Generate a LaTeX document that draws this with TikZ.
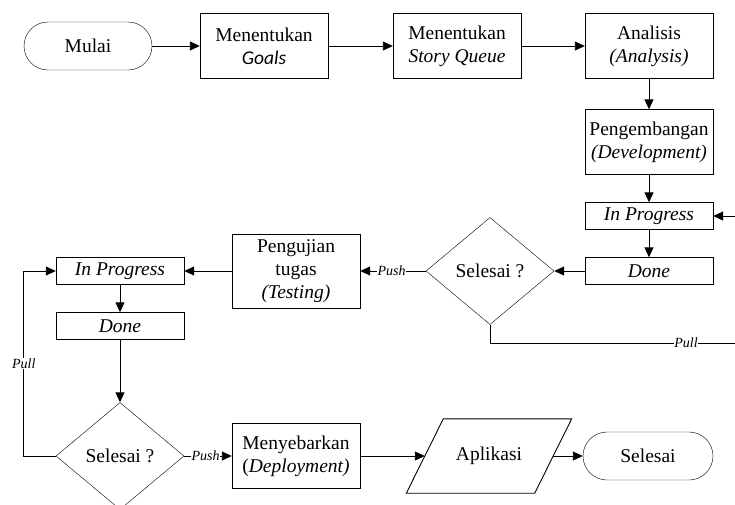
\documentclass[tikz,border=0pt]{standalone}
\usepackage{fontspec}
\setmainfont{Liberation Serif}
\newfontfamily\goalsfont{Carlito}
\usetikzlibrary{arrows.meta,shapes.geometric}
\tikzset{
  every node/.style={font=\fontsize{19.5}{23}\selectfont},
  proses/.style={draw, minimum width=128pt, minimum height=65pt, align=center, inner sep=1pt},
  tahap/.style={draw, minimum width=128pt, minimum height=27pt, inner sep=1pt, font=\fontsize{19.5}{23}\selectfont\itshape},
  terminal/.style={draw, rounded corners=24pt, minimum width=128pt, minimum height=48pt},
  cek/.style={draw, diamond, aspect=1.2, inner sep=0pt, minimum width=128pt, minimum height=107pt},
  dataio/.style={minimum width=128pt, minimum height=74pt, inner sep=0pt},
  ket/.style={fill=white, inner sep=0.5pt, font=\fontsize{14}{16}\selectfont\itshape},
  alur/.style={-{Triangle[length=10pt,width=9pt]}, line width=0.9pt}
}
\begin{document}
\begin{tikzpicture}[x=1pt,y=-1pt]
  \useasboundingbox (0,0) rectangle (735,504);
  % baris atas
  \node[terminal] (mulai) at (88,46) {Mulai};
  \node[proses] (goals) at (264,46) {Menentukan\\{\goalsfont\itshape Goals}};
  \node[proses] (story) at (457,46) {Menentukan\\\textit{Story Queue}};
  \node[proses] (analisis) at (649,46) {Analisis\\\textit{(Analysis)}};
  % kolom kanan
  \node[proses] (dev) at (649,142) {Pengembangan\\\textit{(Development)}};
  \node[tahap] (prog1) at (649,216) {In Progress};
  \node[tahap] (done1) at (649,271) {Done};
  \node[cek] (cek1) at (490,271) {Selesai ?};
  \node[proses, minimum height=74pt] (uji) at (296,271) {Pengujian\\tugas\\\textit{(Testing)}};
  % kolom kiri
  \node[tahap] (prog2) at (120,271) {In Progress};
  \node[tahap] (done2) at (120,326) {Done};
  \node[cek] (cek2) at (120,456) {Selesai ?};
  % baris bawah
  \node[proses] (deploy) at (296,456) {Menyebarkan\\(\textit{Deployment)}};
  \node[dataio] (apl) at (489,456) {Aplikasi};
  \draw[line width=0.9pt] ([xshift=18.5pt]apl.north west) -- ([xshift=18.5pt]apl.north east)
    -- ([xshift=-18.5pt]apl.south east) -- ([xshift=-18.5pt]apl.south west) -- cycle;
  \node[terminal, minimum width=130pt] (selesai) at (648,456) {Selesai};
  \coordinate (pullR) at (735,343);
  \coordinate (inR) at (735,216);

  \draw[alur] (mulai) -- (goals);
  \draw[alur] (goals) -- (story);
  \draw[alur] (story) -- (analisis);
  \draw[alur] (analisis) -- (dev);
  \draw[alur] (dev) -- (prog1);
  \draw[alur] (prog1) -- (done1);
  \draw[alur] (inR) -- (prog1);
  \draw[alur] (done1) -- (cek1);
  \draw[alur] (cek1) -- node[ket, pos=0.52]{Push} (uji);
  \draw[line width=0.9pt] (cek1.south) |- node[ket, pos=0.9]{Pull} (pullR);
  \draw[alur] (uji) -- (prog2);
  \draw[alur] (prog2) -- (done2);
  \draw[alur] (done2) -- (cek2);
  \draw[alur] (cek2.west) -- ++(-32,0) |- node[ket, pos=0.25]{Pull} (prog2.west);
  \draw[alur] (cek2) -- node[ket, pos=0.45]{Push} (deploy);
  \draw[alur] (deploy) -- (apl);
  \draw[alur] (apl) -- (selesai);
\end{tikzpicture}
\end{document}
